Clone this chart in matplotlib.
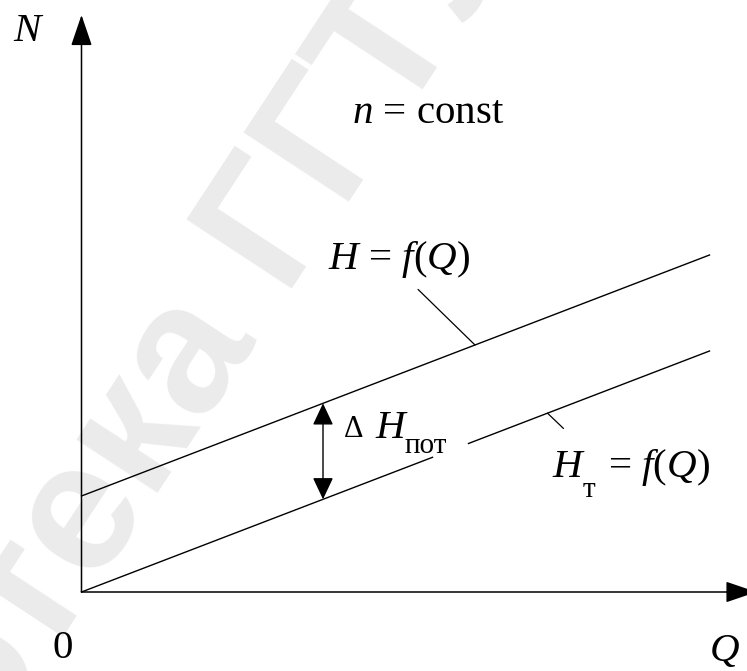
import numpy as np
import matplotlib
matplotlib.use('Agg')
import matplotlib.pyplot as plt

plt.rcParams['font.family'] = ['Liberation Serif', 'DejaVu Serif']
plt.rcParams['mathtext.fontset'] = 'custom'
plt.rcParams['mathtext.rm'] = 'Liberation Serif'
plt.rcParams['mathtext.it'] = 'Liberation Serif:italic'
plt.rcParams['mathtext.bf'] = 'Liberation Serif:bold'

# characteristic lines (straight)
Q = np.array([0, 628])
H = np.array([96, 337])      # H = f(Q)
H_t = np.array([0, 241])     # H_t = f(Q)
gap = (351, 387)             # break in H_t line under the label
Q_dh = 241.5                 # where the Delta H arrow sits
Q_lead_H = 393.5             # leader line for H label
Q_lead_Ht = 466              # leader line for H_t label

axis_Q_end = 675
axis_N_end = 577

fig = plt.figure(figsize=(7.47, 6.71), dpi=100)
ax = fig.add_axes([0, 0, 1, 1])
ax.set_xlim(-81.5, 665.5)
ax.set_ylim(-79, 592)
ax.axis('off')

# faint watermark
ax.text(-25, 30, 'Библиотека ГГТУ', rotation=56.7, fontsize=132,
        fontweight='heavy', family='Liberation Sans', color='#ebebeb',
        ha='center', va='center', zorder=0, rotation_mode='anchor')

# axes with arrows
arr = dict(arrowstyle='-|>,head_length=0.97,head_width=0.33',
           color='k', lw=1.1, shrinkA=0, shrinkB=0, mutation_scale=20)
ax.annotate('', xy=(0, axis_N_end), xytext=(0, 0), arrowprops=arr,
            annotation_clip=False)
ax.annotate('', xy=(axis_Q_end, 0), xytext=(0, 0), arrowprops=arr,
            annotation_clip=False)

# lines
ax.plot(Q, H, color='k', lw=1.0)
q1 = np.array([Q[0], gap[0]])
q2 = np.array([gap[1], Q[1]])
ax.plot(q1, np.interp(q1, Q, H_t), color='k', lw=1.0)
ax.plot(q2, np.interp(q2, Q, H_t), color='k', lw=1.0)

# Delta H arrow
darr = dict(arrowstyle='<|-|>,head_length=0.68,head_width=0.32',
            color='k', lw=1.0, shrinkA=0, shrinkB=0, mutation_scale=20)
ax.annotate('', xy=(Q_dh, np.interp(Q_dh, Q, H)),
            xytext=(Q_dh, np.interp(Q_dh, Q, H_t)), arrowprops=darr)

# leader lines
lead = dict(arrowstyle='-', color='k', lw=0.9, shrinkA=0, shrinkB=0)
ax.annotate('', xy=(Q_lead_H, np.interp(Q_lead_H, Q, H)),
            xytext=(-41, 40), textcoords='offset points', arrowprops=lead)
ax.annotate('', xy=(Q_lead_Ht, np.interp(Q_lead_Ht, Q, H_t)),
            xytext=(11.5, -11), textcoords='offset points', arrowprops=lead)

fs = 29.5
sub = 21
ax.text(-68.5, 551, '$N$', fontsize=fs, va='baseline')
ax.text(270.5, 469, '$n$ = const', fontsize=fs, va='baseline')
ax.text(246.5, 323, '$H$ = $f$($Q$)', fontsize=fs, va='baseline')

ax.text(470.5, 115, '$H$', fontsize=fs, va='baseline')
ax.text(501.5, 95, 'т', fontsize=sub, va='baseline')
ax.text(526.5, 115, '= $f$($Q$)', fontsize=fs, va='baseline')

ax.text(262.5, 155, 'Δ', fontsize=22, va='baseline')
ax.text(293.5, 154, '$H$', fontsize=fs, va='baseline')
ax.text(323.5, 139, 'пот', fontsize=sub, va='baseline')

ax.text(-28.5, -66, '0', fontsize=fs, va='baseline')
ax.text(627.5, -69, '$Q$', fontsize=fs, va='baseline')

fig.savefig('out.png', dpi=100, facecolor='white')
